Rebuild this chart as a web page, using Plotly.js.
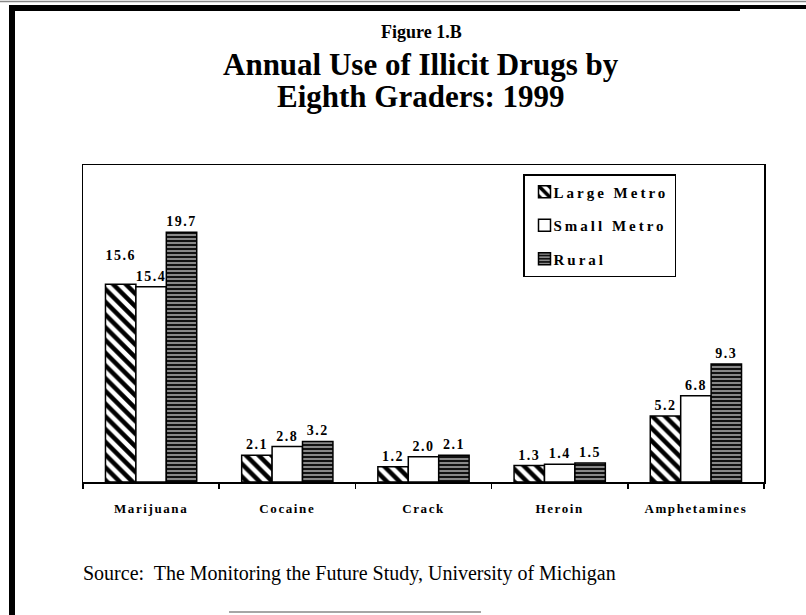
<!DOCTYPE html>
<html>
<head>
<meta charset="utf-8">
<script src="https://cdn.plot.ly/plotly-3.0.1.min.js"></script>
<style>
  html, body { margin: 0; padding: 0; background: #ffffff; }
  #chart { width: 806px; height: 615px; }
  .legendtext { letter-spacing: 3px; transform: translateX(-11px); }
  .bartext { letter-spacing: 1.5px; }
  .xtick text { letter-spacing: 1.6px; }
</style>
</head>
<body>
<div id="chart"></div>
<script>
// ---- data ----
const categories = ['Marijuana', 'Cocaine', 'Crack', 'Heroin', 'Amphetamines'];
const seriesNames = ['Large Metro', 'Small Metro', 'Rural'];
const largeMetro = [15.6, 2.1, 1.2, 1.3, 5.2];
const smallMetro = [15.4, 2.8, 2.0, 1.4, 6.8];
const rural = [19.7, 3.2, 2.1, 1.5, 9.3];

const titleLines = ['Figure 1.B', 'Annual Use of Illicit Drugs by', 'Eighth Graders: 1999'];
const sourceText = 'Source:  The Monitoring the Future Study, University of Michigan';

// label that sits one line higher in the original (avoids collision)
const raisedLabel = { series: 'Large Metro', category: 'Marijuana' };

// ---- geometry helpers (pixel -> paper) ----
const W = 806, H = 615;
const M = { l: 83, r: 42, t: 165, b: 133 };
const PW = W - M.l - M.r, PH = H - M.t - M.b;
const px = x => (x - M.l) / PW;
const py = y => (H - M.b - y) / PH;

const serif = 'Liberation Serif, Times New Roman, serif';

function barTrace(name, values, marker) {
  return {
    type: 'bar',
    name: name,
    legendgroup: name,
    x: categories,
    y: values,
    text: values.map((v, i) => {
      const s = v.toFixed(1);
      return (name === raisedLabel.series && categories[i] === raisedLabel.category) ? s + '<br>&nbsp;' : s;
    }),
    textposition: 'outside',
    constraintext: 'none',
    cliponaxis: false,
    textfont: { family: serif, size: 14, color: '#000', weight: 'bold' },
    marker: marker,
    hoverinfo: 'skip'
  };
}

const traces = [
  barTrace(seriesNames[0], largeMetro, {
    color: '#ffffff',
    line: { color: '#000', width: 1.5 },
    pattern: { shape: '\\', fgcolor: '#000', bgcolor: '#ffffff', fgopacity: 1, size: 9, solidity: 0.5, fillmode: 'overlay' }
  }),
  barTrace(seriesNames[1], smallMetro, {
    color: '#ffffff',
    line: { color: '#000', width: 1.5 }
  }),
  barTrace(seriesNames[2], rural, {
    color: '#111111',
    line: { color: '#000', width: 1.5 },
    pattern: { shape: '-', fgcolor: '#ffffff', bgcolor: '#111111', fgopacity: 1, size: 4, solidity: 0.25, fillmode: 'overlay' }
  })
];

const annotations = [
  { text: titleLines[0], x: px(421), y: py(32), size: 18 },
  { text: titleLines[1], x: px(421), y: py(64), size: 31 },
  { text: titleLines[2], x: px(421), y: py(96), size: 31 }
].map(a => ({
  xref: 'paper', yref: 'paper', x: a.x, y: a.y,
  xanchor: 'center', yanchor: 'middle', showarrow: false,
  text: a.text,
  font: { family: serif, size: a.size, color: '#000', weight: 'bold' }
}));
annotations.push({
  xref: 'paper', yref: 'paper', x: px(81), y: py(573),
  xanchor: 'left', yanchor: 'middle', showarrow: false,
  text: sourceText,
  font: { family: serif, size: 20, color: '#000' }
});

const shapes = [
  { type: 'line', xref: 'paper', yref: 'paper', x0: px(0), x1: px(806), y0: py(1.5), y1: py(1.5), line: { color: '#888', width: 1.5 } },
  { type: 'rect', xref: 'paper', yref: 'paper', x0: px(9), x1: px(740), y0: py(5), y1: py(11), fillcolor: '#000', line: { width: 0 } },
  { type: 'rect', xref: 'paper', yref: 'paper', x0: px(740), x1: px(806), y0: py(5), y1: py(9), fillcolor: '#000', line: { width: 0 } },
  { type: 'rect', xref: 'paper', yref: 'paper', x0: px(9), x1: px(15), y0: py(5), y1: py(615), fillcolor: '#000', line: { width: 0 } },
  { type: 'line', xref: 'paper', yref: 'paper', x0: px(229), x1: px(481), y0: py(612), y1: py(612), line: { color: '#888', width: 1.5 } }
];

const layout = {
  width: W, height: H,
  margin: M,
  paper_bgcolor: '#ffffff',
  plot_bgcolor: '#ffffff',
  barmode: 'group',
  bargap: 0.33,
  bargroupgap: 0,
  showlegend: true,
  legend: {
    x: px(523), y: py(174), xanchor: 'left', yanchor: 'top',
    bordercolor: '#000', borderwidth: 1.5, bgcolor: '#ffffff',
    font: { family: serif, size: 15, color: '#000', weight: 'bold' },
    tracegroupgap: 11,
    traceorder: 'grouped'
  },
  xaxis: {
    type: 'category',
    showline: true, mirror: true, linecolor: '#000', linewidth: 1.5,
    ticks: 'outside', tickson: 'boundaries', ticklen: 5, tickwidth: 1.5, tickcolor: '#000',
    ticklabelstandoff: 14,
    tickfont: { family: serif, size: 13, color: '#000', weight: 'bold' },
    showgrid: false, zeroline: false, fixedrange: true
  },
  yaxis: {
    range: [0, 25],
    showline: true, mirror: true, linecolor: '#000', linewidth: 1.5,
    ticks: '', showticklabels: false, showgrid: false, zeroline: false, fixedrange: true
  },
  annotations: annotations,
  shapes: shapes
};

Plotly.newPlot('chart', traces, layout, { staticPlot: true, displayModeBar: false }).then(gd => {
  // trim the legend box to the original's width (text was shifted left via CSS)
  const bg = gd.querySelector('.legend rect.bg');
  if (bg) {
    const w = parseFloat(bg.getAttribute('width'));
    if (w > 0) bg.setAttribute('width', Math.max(w - 10, 0));
  }
});
</script>
</body>
</html>
